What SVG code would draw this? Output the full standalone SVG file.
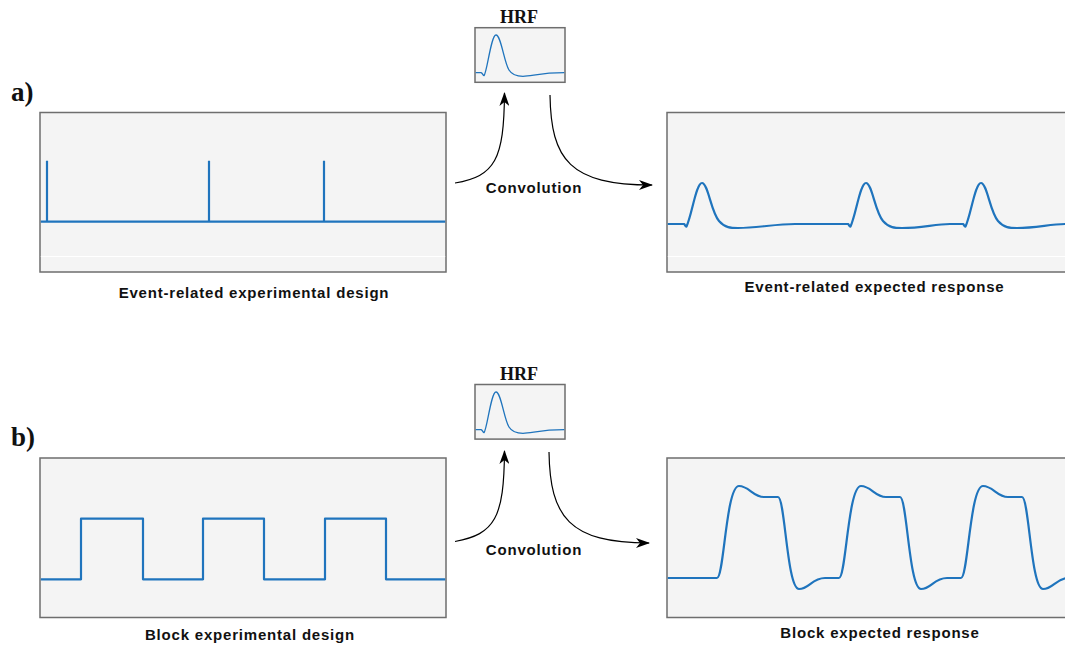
<svg xmlns="http://www.w3.org/2000/svg" width="1065" height="646" viewBox="0 0 1065 646">
<style>
.panel{fill:#f4f4f4;stroke:#6e6e6e;stroke-width:1.5}
.sig{fill:none;stroke:#1f74bd;stroke-width:2.2;stroke-linejoin:round}
.hrf{fill:none;stroke:#1f74bd;stroke-width:1.3}
.conn{fill:none;stroke:#000;stroke-width:1.2}
.lbl{font-family:"Liberation Sans",Arial,sans-serif;font-weight:bold;font-size:15px;letter-spacing:0.8px;fill:#111;text-anchor:middle}
.ser{font-family:"Liberation Serif","Times New Roman",serif;font-weight:bold;fill:#111}
.grid{stroke:#fff;stroke-width:1}
</style>
<defs>
<marker id="ah" viewBox="0 0 14 10" refX="13" refY="5" markerWidth="14" markerHeight="10" markerUnits="userSpaceOnUse" orient="auto">
<path d="M0,0 L14,5 L0,10 L4,5 Z" fill="#000"/>
</marker>
</defs>
<rect width="1065" height="646" fill="#fff"/>

<text class="ser" x="11" y="101" font-size="27">a)</text>
<text class="ser" x="11" y="446" font-size="27">b)</text>

<!-- a) event-related design -->
<g id="event-design">
<rect class="panel" x="40" y="112.5" width="406" height="159.5"/>
<line class="grid" x1="40.8" y1="256.5" x2="445.2" y2="256.5"/>
<path class="sig" d="M40.8,221.7 H445.2 M47,221.7 V160.7 M209,221.7 V160.7 M324,221.7 V160.7"/>
<text class="lbl" x="254" y="298">Event-related experimental design</text>
</g>

<g id="hrf-a">
<text class="ser" x="519" y="23" font-size="18" text-anchor="middle">HRF</text>
<rect class="panel" x="475" y="27.7" width="90" height="54.6"/>
<path class="hrf" d="M475.7,72.7 L481,72.7 C482.5,73 483,75.7 484,75.7 C487,73 491,35 496,35 C501,35 504,62 509,70 C512,75 517,76.3 523,76.3 C532,76.3 540,72.7 564.3,72.7"/>
</g>

<g id="event-response">
<rect class="panel" x="667" y="112.5" width="410" height="159.5"/>
<line class="grid" x1="667.8" y1="256.5" x2="1065" y2="256.5"/>
<path class="sig" d="M667.8,224 L684,224 C685,224.5 685.5,227 686.5,226.5 C692,215 696,183 702,183 C708,183 711,212 719,221 C725,228 731,228 738,228 C758,228 775,224 795,224 L848,224 C849,224.5 849.5,227 850.5,226.5 C856,215 860,183 866,183 C872,183 875,212 883,221 C889,228 895,228 902,228 C922,228 935,224 950,224 L963,224 C964,224.5 964.5,227 965.5,226.5 C971,215 975,183 981,183 C987,183 990,212 998,221 C1004,228 1010,228 1017,228 C1037,228 1050,224 1066,224"/>
<text class="lbl" x="874.5" y="292">Event-related expected response</text>
</g>

<!-- b) block design -->
<g id="block-design">
<rect class="panel" x="40" y="458" width="406" height="159.5"/>
<path class="sig" d="M40.8,579.3 H81 V518.7 H143 V579.3 H203 V518.7 H264 V579.3 H325 V518.7 H386 V579.3 H445.2"/>
<text class="lbl" x="250" y="640">Block experimental design</text>
</g>

<g id="hrf-b">
<text class="ser" x="519" y="380" font-size="18" text-anchor="middle">HRF</text>
<rect class="panel" x="475" y="384.5" width="90" height="54.6"/>
<path class="hrf" d="M475.7,429.7 L481,429.7 C482.5,430 483,432.7 484,432.7 C487,430 491,392 496,392 C501,392 504,419 509,427 C512,432 517,433.3 523,433.3 C532,433.3 540,429.7 564.3,429.7"/>
</g>

<g id="block-response">
<rect class="panel" x="667" y="458" width="410" height="159.5"/>
<path class="sig" d="M667.8,578 L717,578 C724,578 726,486 739,486 C749,486 753,497 764,497 L778,497 C785,497 787,589 799,589 C809,589 812,578 825,578 L839,578 C846,578 848,486 861,486 C871,486 875,497 886,497 L900,497 C907,497 909,589 921,589 C931,589 934,578 947,578 L961,578 C968,578 970,486 983,486 C993,486 997,497 1008,497 L1022,497 C1029,497 1031,589 1043,589 C1053,589 1056,578 1069,578"/>
<text class="lbl" x="880" y="638">Block expected response</text>
</g>

<!-- connectors -->
<g id="connectors">
<path class="conn" marker-end="url(#ah)" d="M455,183 C495,176 504,160 504.5,93"/>
<path class="conn" marker-end="url(#ah)" d="M550,95 C551,160 570,185 652,185"/>
<text class="lbl" x="534" y="193">Convolution</text>
<path class="conn" marker-end="url(#ah)" d="M455,541.5 C495,534 504,518 504.5,451"/>
<path class="conn" marker-end="url(#ah)" d="M549,452 C550,517 569,543 649,543"/>
<text class="lbl" x="534" y="555">Convolution</text>
</g>
</svg>
